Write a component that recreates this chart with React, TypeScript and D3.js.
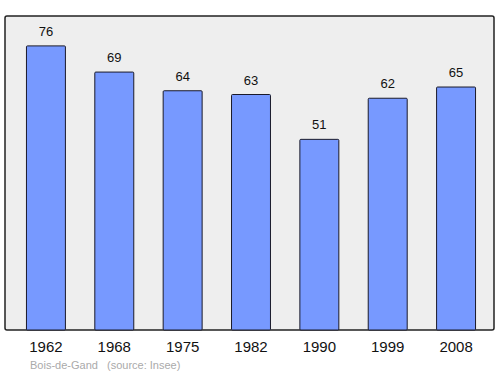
import React from "react";
import * as d3 from "d3";

const years = ["1962", "1968", "1975", "1982", "1990", "1999", "2008"];
const population = [76, 69, 64, 63, 51, 62, 65];
const commune = "Bois-de-Gand";
const sourceLabel = "(source: Insee)";

export default function App() {
  const W = 500, H = 374;
  const left = 5, right = 494, top = 16, bottom = 330;
  const x = d3.scaleBand<string>().domain(years).range([8, 494]).paddingInner(0.43).paddingOuter(0.27);
  const y = d3.scaleLinear().domain([0, 84]).range([bottom, top]);
  return (
    <svg width={W} height={H} style={{ position: "absolute", left: 0, top: 0 }} fontFamily="'Liberation Sans', Arial, sans-serif">
      <rect x={left} y={top} width={right - left} height={bottom - top} fill="#eeeeee" stroke="#222" strokeWidth={1.5} rx={2} />
      {years.map((yr, i) => (
        <g key={yr}>
          <rect x={x(yr)} y={y(population[i])} width={x.bandwidth()} height={bottom - y(population[i])}
            fill="#7799ff" stroke="#1a1a2a" strokeWidth={1} rx={1} />
          <text x={x(yr)! + x.bandwidth() / 2} y={y(population[i]) - 10} textAnchor="middle" fontSize={13} fill="#111">
            {population[i]}
          </text>
          <text x={x(yr)! + x.bandwidth() / 2} y={352} textAnchor="middle" fontSize={15} fill="#111">{yr}</text>
        </g>
      ))}
      <text x={30} y={368.5} fontSize={11} fill="#aaaaaa">{commune}</text>
      <text x={107} y={368.5} fontSize={11} fill="#aaaaaa">{sourceLabel}</text>
    </svg>
  );
}
